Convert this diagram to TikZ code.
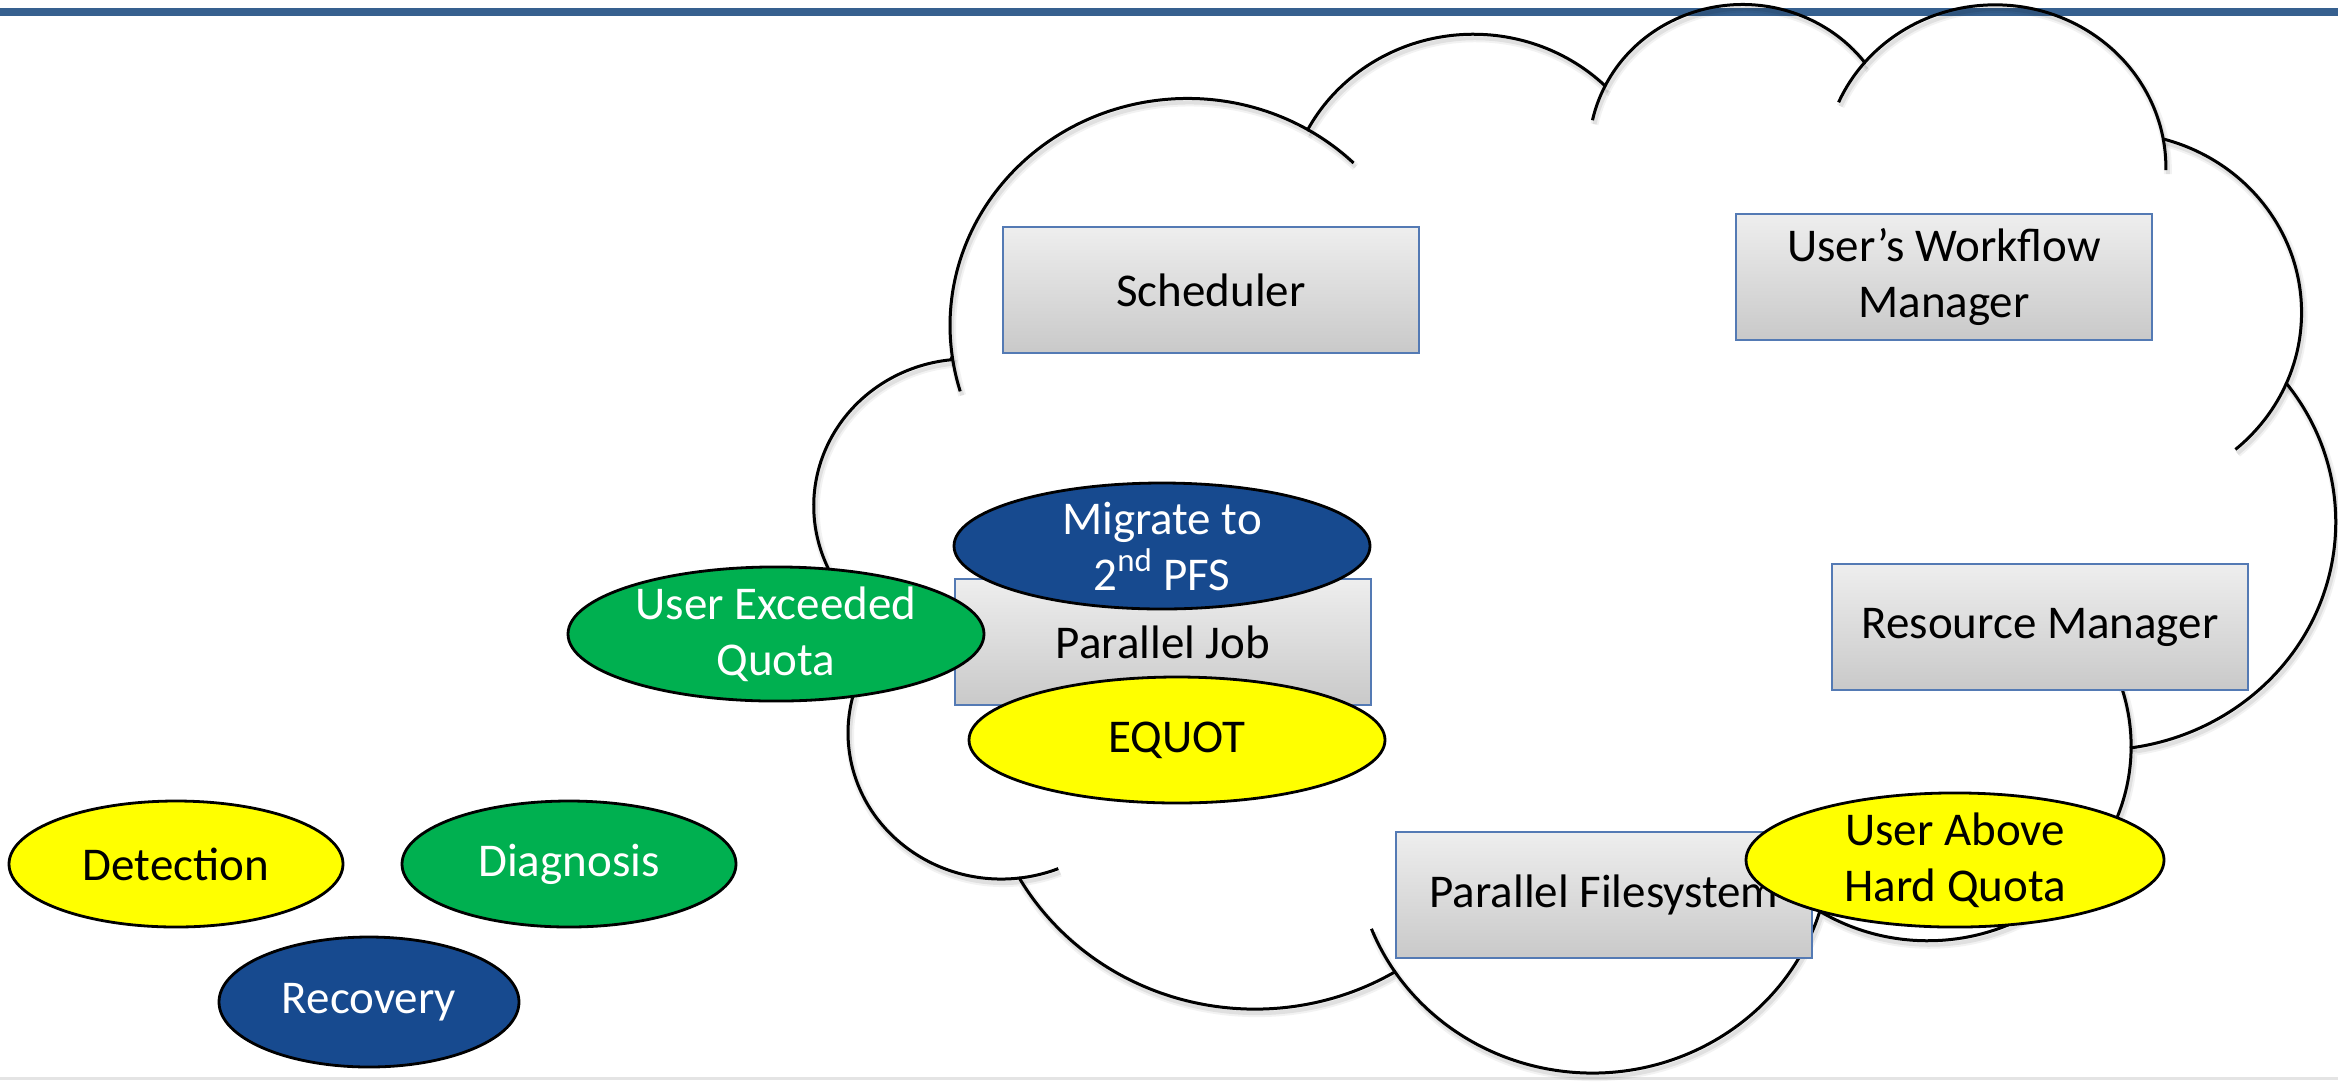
\documentclass[tikz,border=0pt]{standalone}
\usepackage{fontspec}
\setmainfont{Carlito}
\usetikzlibrary{shapes.geometric}

\definecolor{barblue}{RGB}{54,96,143}
\definecolor{boxedge}{RGB}{84,122,180}
\definecolor{boxtop}{RGB}{238,238,238}
\definecolor{boxbot}{RGB}{201,201,201}
\definecolor{okgreen}{RGB}{0,176,80}
\definecolor{darkblue}{RGB}{23,74,143}
\definecolor{hiyellow}{RGB}{255,255,0}
\definecolor{rulegray}{RGB}{228,228,228}

\newcommand\lbl{\fontsize{23.5}{28}\selectfont}

% Cloud outline: eleven elliptic lobes, each arc given by its parametric angles,
% in a 432 x 432 design space that the enclosing scope stretches to size.
\newcommand\cloudoutline{%
  (39.00,143.70) coordinate (p0)
  arc[start angle=-187.75, end angle=-59.64,  x radius=67.53, y radius=91.90] coordinate (j1)
  arc[start angle=-152.02, end angle=-45.44,  x radius=53.33, y radius=72.67] coordinate (j2)
  arc[start angle=-153.49, end angle=-37.30,  x radius=43.65, y radius=59.45] coordinate (j3)
  arc[start angle=-139.70, end angle=-10.21,  x radius=48.57, y radius=65.95] coordinate (j4)
  arc[start angle=-74.77,  end angle=23.21,   x radius=53.33, y radius=72.73] coordinate (j5)
  arc[start angle=-37.54,  end angle=81.86,   x radius=67.75, y radius=92.20] coordinate (j6)
  arc[start angle=0.46,    end angle=121.98,  x radius=57.85, y radius=78.67] coordinate (j7)
  arc[start angle=16.85,   end angle=146.23,  x radius=67.52, y radius=92.15] coordinate (j8)
  arc[start angle=58.98,   end angle=150.19,  x radius=77.20, y radius=105.43] coordinate (j9)
  arc[start angle=-276.69, end angle=-136.91, x radius=43.60, y radius=59.18] coordinate (j10)
  arc[start angle=-239.65, end angle=-95.89,  x radius=43.45, y radius=59.45]
  -- cycle}
% Short inner continuations of the lobes past their junctions
\newcommand\cloudtails{%
  (j10) arc[start angle=120.35, end angle=85.55,  x radius=43.45, y radius=59.45]
  (j9)  arc[start angle=83.31,  end angle=68.24,  x radius=43.60, y radius=59.18]
  (j8)  arc[start angle=146.23, end angle=158.47, x radius=67.52, y radius=92.15]
  (j7)  arc[start angle=16.85,  end angle=4.74,   x radius=67.52, y radius=92.15]
  (j6)  arc[start angle=0.46,   end angle=-64.03, x radius=57.85, y radius=78.67]
  (j5)  arc[start angle=23.21,  end angle=49.64,  x radius=53.33, y radius=72.73]
  (j4)  arc[start angle=-10.21, end angle=0.82,   x radius=48.57, y radius=65.95]
  (j3)  arc[start angle=-139.70,end angle=-156.28,x radius=48.57, y radius=65.95]
  (j2)  arc[start angle=-153.49,end angle=-167.72,x radius=43.65, y radius=59.45]
  (j1)  arc[start angle=-59.64, end angle=-45.72, x radius=67.53, y radius=91.90]
  (p0)  arc[start angle=172.25, end angle=163.19, x radius=67.53, y radius=91.90]}

\tikzset{
  cloudline/.style={draw=black, line width=1.5pt},
  cloudshadewide/.style={draw=black, draw opacity=0.05, line width=4pt},
  cloudshadenarrow/.style={draw=black, draw opacity=0.07, line width=2pt},
  boxnode/.style={draw=boxedge, line width=0.8pt, top color=boxtop, bottom color=boxbot,
    rectangle, minimum width=208pt, minimum height=63pt, inner sep=0pt, align=center, font=\lbl},
  bubble/.style={ellipse, draw=black, line width=1.4pt, inner sep=0pt, align=center, font=\lbl},
  bigbubble/.style={bubble, minimum width=208pt, minimum height=63pt},
  smallbubble/.style={bubble, minimum width=167pt, minimum height=63pt},
  yellowfill/.style={fill=hiyellow, text=black},
  greenfill/.style={fill=okgreen, text=white},
  bluefill/.style={fill=darkblue, text=white},
}

\begin{document}
\begin{tikzpicture}[x=0.5pt, y=-0.5pt]
  \useasboundingbox (0,0) rectangle (2338,1083);
  \fill[white] (0,0) rectangle (2338,1083);

  % header band and footer rule
  \fill[barblue] (0,8) rectangle (2338,16);
  \fill[rulegray] (0,1077) rectangle (2338,1080);

  % soft shadow of the cloud
  \begin{scope}[shift={(817,5)}, x=1.75926pt, y=-1.23611pt]
    \path[cloudshadewide] \cloudoutline;
    \path[cloudshadewide] \cloudtails;
    \path[cloudshadenarrow] \cloudoutline;
    \path[cloudshadenarrow] \cloudtails;
  \end{scope}
  % the cloud
  \begin{scope}[shift={(815,1)}, x=1.75926pt, y=-1.23611pt]
    \path[cloudline] \cloudoutline;
    \path[cloudline] \cloudtails;
  \end{scope}

  % system components
  \node[boxnode] (sched) at (1211,290) {Scheduler};
  \node[boxnode] (uwm)   at (1944,277) {User’s Workflow\\Manager};
  \node[boxnode] (pjob)  at (1163,642) {Parallel Job};
  \node[boxnode] (rman)  at (2040,627) {Resource Manager};
  \node[boxnode] (pfs)   at (1604,895) {Parallel Filesystem};

  % events on the components
  \node[bigbubble, bluefill]   (migr)  at (1162,546) {Migrate to\\2\textsuperscript{nd} PFS};
  \node[bigbubble, greenfill, minimum height=65pt] (uexq) at (776,634) {User Exceeded\\Quota};
  \node[bigbubble, yellowfill] (equot) at (1177,740) {EQUOT};
  \node[bigbubble, yellowfill, minimum width=209pt, minimum height=64pt] (uahq) at (1955,860) {User Above\\Hard Quota};

  % legend
  \node[smallbubble, yellowfill] (det)  at (176,864) {Detection};
  \node[smallbubble, greenfill]  (diag) at (569,864) {Diagnosis};
  \node[smallbubble, bluefill, minimum width=150pt, minimum height=65pt] (rec) at (369,1002) {Recovery};
\end{tikzpicture}
\end{document}
